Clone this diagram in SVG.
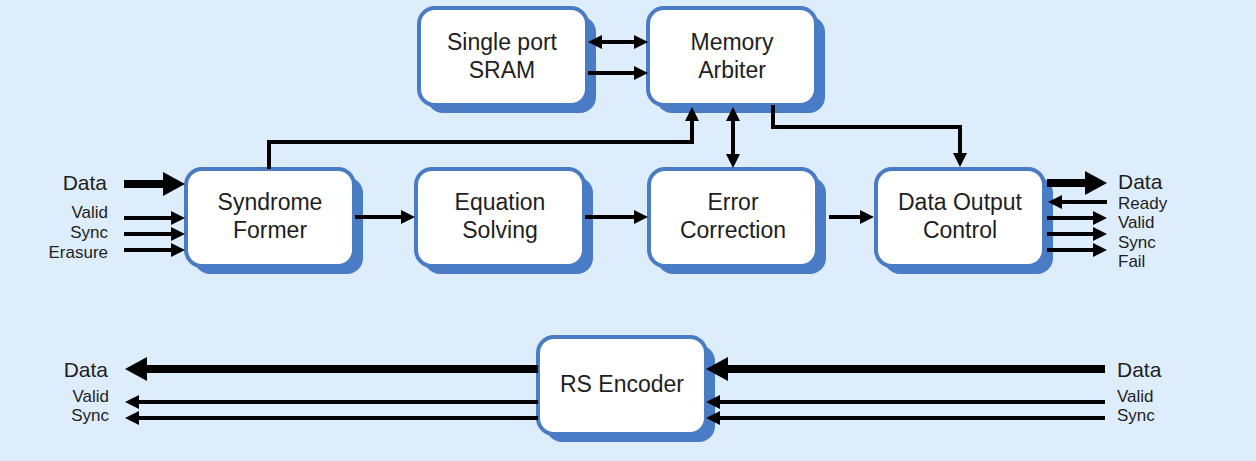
<svg xmlns="http://www.w3.org/2000/svg" width="1256" height="461" viewBox="0 0 1256 461">
<style>
.sh{fill:#4a7cc6}
.bx{fill:#ffffff;stroke:#4a7cc6;stroke-width:4}
.t{font-family:"Liberation Sans",Arial,sans-serif;font-size:23px;fill:#1e1e1e;text-anchor:middle}
.lb{font-family:"Liberation Sans",Arial,sans-serif;fill:#1e1e1e}
.big{font-size:21px}
.sm{font-size:17px}
.r{text-anchor:end}
.w{fill:none;stroke:#000;stroke-width:4}
.k{fill:none;stroke:#000;stroke-width:8}
.e{marker-end:url(#a)}
.be{marker-start:url(#a);marker-end:url(#a)}
.ke{marker-end:url(#A)}
</style>
<defs>
<marker id="a" viewBox="0 0 14 14" refX="2" refY="7" markerWidth="14" markerHeight="14" markerUnits="userSpaceOnUse" orient="auto-start-reverse"><path d="M0,0 L14,7 L0,14 z" fill="#000"/></marker>
<marker id="A" viewBox="0 0 22 24" refX="2" refY="12" markerWidth="22" markerHeight="24" markerUnits="userSpaceOnUse" orient="auto"><path d="M0,0 L22,12 L0,24 z" fill="#000"/></marker>
</defs>
<rect width="1256" height="461" fill="#deedfb"/>
<g id="sram"><rect class="sh" x="427" y="16" width="169" height="97" rx="16"/><rect class="bx" x="419" y="8" width="168" height="97" rx="16"/><text class="t" x="502" y="50">Single port</text><text class="t" x="502" y="78">SRAM</text></g>
<g id="arbiter"><rect class="sh" x="656" y="16" width="169" height="97" rx="16"/><rect class="bx" x="648" y="8" width="168" height="97" rx="16"/><text class="t" x="732" y="50">Memory</text><text class="t" x="732" y="78">Arbiter</text></g>
<g id="syndrome"><rect class="sh" x="194" y="177" width="169" height="97" rx="16"/><rect class="bx" x="186" y="169" width="168" height="97" rx="16"/><text class="t" x="270" y="210">Syndrome</text><text class="t" x="270" y="238">Former</text></g>
<g id="equation"><rect class="sh" x="424" y="177" width="169" height="97" rx="16"/><rect class="bx" x="416" y="169" width="168" height="97" rx="16"/><text class="t" x="500" y="210">Equation</text><text class="t" x="500" y="238">Solving</text></g>
<g id="error"><rect class="sh" x="657" y="177" width="169" height="97" rx="16"/><rect class="bx" x="649" y="169" width="168" height="97" rx="16"/><text class="t" x="733" y="210">Error</text><text class="t" x="733" y="238">Correction</text></g>
<g id="dataout"><rect class="sh" x="884" y="177" width="169" height="97" rx="16"/><rect class="bx" x="876" y="169" width="168" height="97" rx="16"/><text class="t" x="960" y="210">Data Output</text><text class="t" x="960" y="238">Control</text></g>
<g id="rsenc"><rect class="sh" x="546" y="345" width="169" height="97" rx="16"/><rect class="bx" x="538" y="337" width="168" height="97" rx="16"/><text class="t" x="622" y="392">RS Encoder</text></g>
<g id="labels">
<text class="lb big r" x="107" y="190">Data</text>
<text class="lb sm r" x="108" y="218">Valid</text>
<text class="lb sm r" x="108" y="238">Sync</text>
<text class="lb sm r" x="108" y="258">Erasure</text>
<text class="lb big" x="1118" y="189">Data</text>
<text class="lb sm" x="1118" y="209">Ready</text>
<text class="lb sm" x="1118" y="228">Valid</text>
<text class="lb sm" x="1118" y="248">Sync</text>
<text class="lb sm" x="1118" y="267">Fail</text>
<text class="lb big r" x="108" y="377">Data</text>
<text class="lb sm r" x="109" y="402">Valid</text>
<text class="lb sm r" x="109" y="421">Sync</text>
<text class="lb big" x="1117" y="377">Data</text>
<text class="lb sm" x="1117" y="402">Valid</text>
<text class="lb sm" x="1117" y="421">Sync</text>
</g>
<g id="connectors">
<path class="k ke" d="M124,184 H165"/>
<path class="w e" d="M124,218 H173"/>
<path class="w e" d="M124,234 H173"/>
<path class="w e" d="M124,250 H173"/>
<path class="w e" d="M355,217 H403"/>
<path class="w e" d="M585,217 H636"/>
<path class="w e" d="M829,217 H862"/>
<path class="w e" d="M269,169 V142 H692 V119"/>
<path class="w be" d="M733,119 V156"/>
<path class="w e" d="M773,105 V127 H960 V155"/>
<path class="w be" d="M600,42 H636"/>
<path class="w e" d="M588,73 H636"/>
<path class="k ke" d="M1047,183 H1087"/>
<path class="w e" d="M1107,202 H1060"/>
<path class="w e" d="M1047,218 H1095"/>
<path class="w e" d="M1047,234 H1095"/>
<path class="w e" d="M1047,250 H1095"/>
<path class="k ke" d="M538,369 H145"/>
<path class="w e" d="M538,402 H137"/>
<path class="w e" d="M538,418 H137"/>
<path class="k ke" d="M1105,369 H726"/>
<path class="w e" d="M1105,402 H718"/>
<path class="w e" d="M1105,418 H718"/>
</g>
</svg>
